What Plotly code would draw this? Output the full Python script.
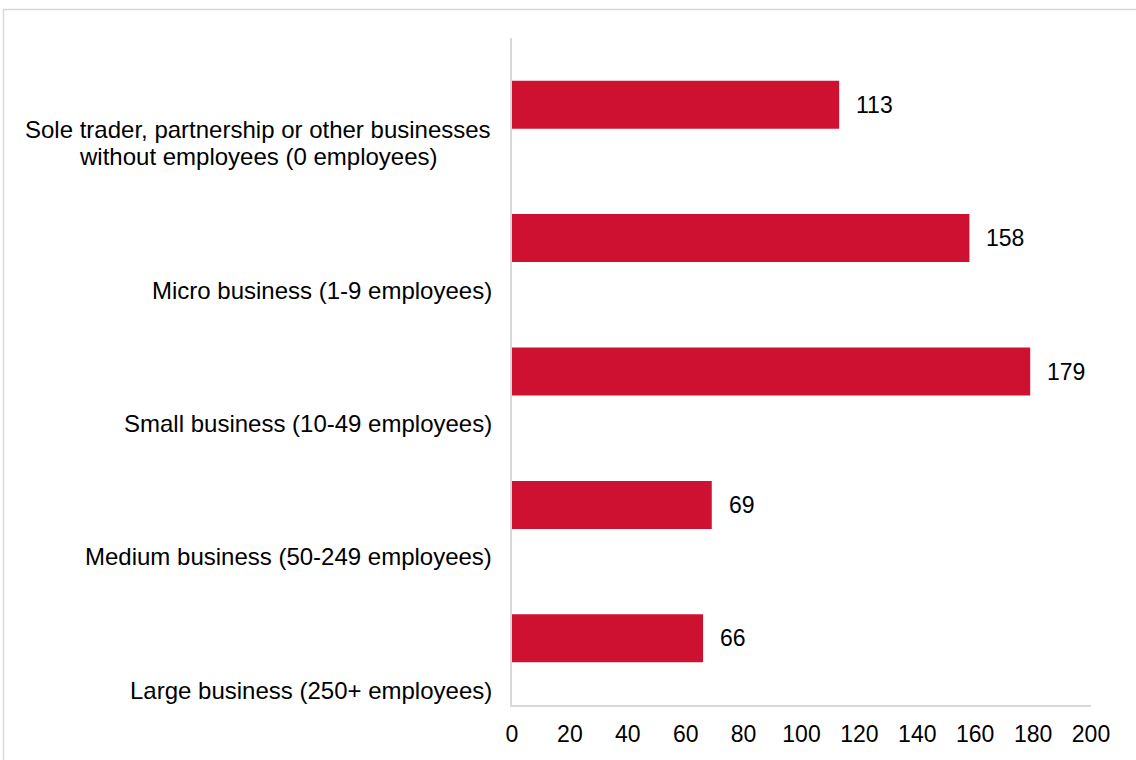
import plotly.graph_objects as go

categories = [
    "Sole trader, partnership or other businesses<br>without employees (0 employees)",
    "Micro business (1-9 employees)",
    "Small business (10-49 employees)",
    "Medium business (50-249 employees)",
    "Large business (250+ employees)",
]
values = [113, 158, 179, 69, 66]
x_ticks = [0, 20, 40, 60, 80, 100, 120, 140, 160, 180, 200]

BAR = "#CE1130"
FONT = "Arial, Liberation Sans, sans-serif"
AXIS = "#D9D9D9"

pos = list(range(len(categories)))

fig = go.Figure()
fig.add_trace(go.Bar(
    x=values, y=pos, orientation="h",
    marker=dict(color=BAR, line=dict(width=0)),
    width=0.36, hoverinfo="x",
))

annotations = []
for p, v in zip(pos, values):
    annotations.append(dict(
        x=v, y=p, xref="x", yref="y", text=str(v), showarrow=False,
        xanchor="left", yanchor="middle", xshift=15,
        font=dict(family=FONT, size=23, color="#000000"),
    ))
for p, c in zip(pos, categories):
    lines = c.split("<br>")
    n = len(lines)
    for k, line in enumerate(lines):
        annotations.append(dict(
            x=0, y=p + 0.39, xref="paper", yref="y", text=line, showarrow=False,
            xanchor="center" if n > 1 else "right", yanchor="middle",
            xshift=(-254 if n > 1 else -18),
            yshift=27 * (n - 1 - k),
            font=dict(family=FONT, size=24, color="#000000"),
        ))

fig.update_layout(
    width=1136, height=760,
    margin=dict(l=512, r=45, t=38, b=55),
    paper_bgcolor="white", plot_bgcolor="white",
    showlegend=False,
    annotations=annotations,
    xaxis=dict(
        range=[0, 200], tickvals=x_ticks, ticktext=[str(t) for t in x_ticks],
        showgrid=False, zeroline=False, showline=True, linecolor=AXIS, linewidth=1.5,
        ticks="", tickfont=dict(family=FONT, size=23, color="#000000"),
        ticklabelstandoff=8,
        fixedrange=True,
    ),
    yaxis=dict(
        range=[len(categories) - 0.5, -0.5],
        showticklabels=False, showgrid=False, zeroline=False,
        showline=True, linecolor=AXIS, linewidth=1.5, ticks="",
        fixedrange=True,
    ),
    shapes=[dict(
        type="rect", xref="paper", yref="paper",
        x0=(3.5 - 512) / 579, x1=(1150 - 512) / 579,
        y0=(705 - 780) / 667, y1=(705 - 9.5) / 667,
        line=dict(color="#D9D9D9", width=1.5), fillcolor="rgba(0,0,0,0)",
        layer="below",
    )],
)

fig.write_html("out.html")
